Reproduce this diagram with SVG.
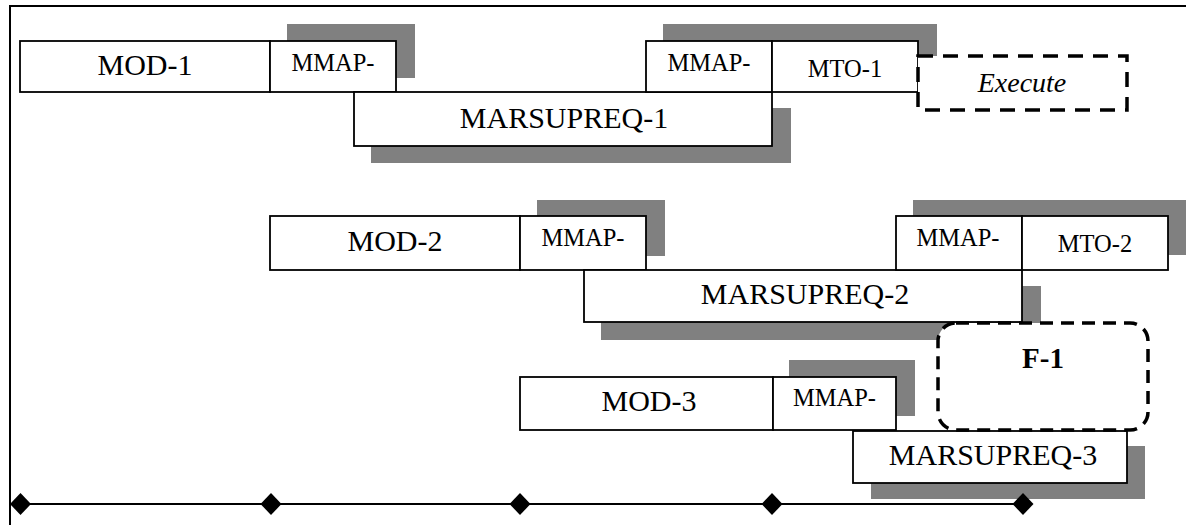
<svg xmlns="http://www.w3.org/2000/svg" width="1186" height="525" viewBox="0 0 1186 525">
  <style>
    .box { fill: #ffffff; stroke: #000000; stroke-width: 1.8; }
    .shadow { fill: #808080; stroke: none; }
    .dash { fill: #ffffff; stroke: #000000; stroke-width: 3.5; }
    .frame { stroke: #000000; stroke-width: 2; fill: none; }
    .lbl { font-family: "Liberation Serif", "Times New Roman", serif; fill: #000000; text-anchor: middle; }
    .big { font-size: 30px; }
    .small { font-size: 24.5px; }
    .tick { fill: #000000; }
  </style>
  <defs>
    <path id="diamond" d="M0,-11 L10.5,0 L0,11 L-10.5,0 Z"/>
  </defs>

  <!-- page frame: top and left rules -->
  <g id="frame">
    <path class="frame" d="M10,525 L10,6 L1186,6"/>
  </g>

  <!-- drop shadows behind the stages -->
  <g id="shadows">
    <rect class="shadow" x="287" y="24" width="128" height="54"/>
    <rect class="shadow" x="371" y="108" width="420" height="55"/>
    <rect class="shadow" x="663" y="24" width="274" height="54"/>
    <rect class="shadow" x="537" y="200" width="128" height="56"/>
    <rect class="shadow" x="601" y="286" width="440" height="54"/>
    <rect class="shadow" x="913" y="200" width="273" height="55"/>
    <rect class="shadow" x="789" y="360" width="126" height="56"/>
    <rect class="shadow" x="871" y="446" width="274" height="53"/>
  </g>

  <!-- row 1 -->
  <g id="mod-1">
    <rect class="box" x="20" y="41" width="250" height="51"/>
    <text class="lbl big" x="145" y="75">MOD-1</text>
  </g>
  <g id="mmap-1a">
    <rect class="box" x="270" y="41" width="126" height="51"/>
    <text class="lbl small" x="333" y="71">MMAP-</text>
  </g>
  <g id="marsupreq-1">
    <rect class="box" x="354" y="92" width="418" height="54"/>
    <text class="lbl big" x="564" y="128">MARSUPREQ-1</text>
  </g>
  <g id="mmap-1b">
    <rect class="box" x="646" y="41" width="126" height="51"/>
    <text class="lbl small" x="709" y="71">MMAP-</text>
  </g>
  <g id="mto-1">
    <rect class="box" x="772" y="41" width="146" height="51"/>
    <text class="lbl small" x="845" y="77">MTO-1</text>
  </g>

  <!-- row 2 -->
  <g id="mod-2">
    <rect class="box" x="270" y="216" width="250" height="54"/>
    <text class="lbl big" x="395" y="251">MOD-2</text>
  </g>
  <g id="mmap-2a">
    <rect class="box" x="520" y="216" width="126" height="54"/>
    <text class="lbl small" x="583" y="246">MMAP-</text>
  </g>
  <g id="marsupreq-2">
    <rect class="box" x="584" y="270" width="438" height="52"/>
    <text class="lbl big" x="805" y="304">MARSUPREQ-2</text>
  </g>
  <g id="mmap-2b">
    <rect class="box" x="896" y="216" width="126" height="54"/>
    <text class="lbl small" x="958" y="246">MMAP-</text>
  </g>
  <g id="mto-2">
    <rect class="box" x="1022" y="216" width="146" height="54"/>
    <text class="lbl small" x="1095" y="252">MTO-2</text>
  </g>

  <!-- row 3 -->
  <g id="mod-3">
    <rect class="box" x="520" y="377" width="253" height="53"/>
    <text class="lbl big" x="649" y="411">MOD-3</text>
  </g>
  <g id="mmap-3">
    <rect class="box" x="773" y="377" width="123" height="53"/>
    <text class="lbl small" x="834.5" y="406">MMAP-</text>
  </g>
  <g id="marsupreq-3">
    <rect class="box" x="853" y="431" width="274" height="52"/>
    <text class="lbl big" x="993" y="465">MARSUPREQ-3</text>
  </g>

  <!-- dashed outlines -->
  <g id="execute">
    <rect class="dash" x="918" y="56" width="209" height="54" stroke-dasharray="15 10"/>
    <text class="lbl" x="1022" y="92" font-size="28" font-style="italic">Execute</text>
  </g>
  <g id="f-1">
    <rect class="dash" x="938" y="323" width="210" height="107" rx="18" ry="18" stroke-dasharray="13 8"/>
    <text class="lbl" x="1043" y="368" font-size="29" font-weight="bold">F-1</text>
  </g>

  <!-- time axis with milestones -->
  <g id="connectors">
    <line x1="10" y1="504" x2="1022" y2="504" stroke="#000000" stroke-width="2"/>
    <use href="#diamond" class="tick" x="20.5" y="504"/>
    <use href="#diamond" class="tick" x="271" y="504"/>
    <use href="#diamond" class="tick" x="520" y="504"/>
    <use href="#diamond" class="tick" x="772" y="504"/>
    <use href="#diamond" class="tick" x="1023" y="504"/>
  </g>
</svg>
